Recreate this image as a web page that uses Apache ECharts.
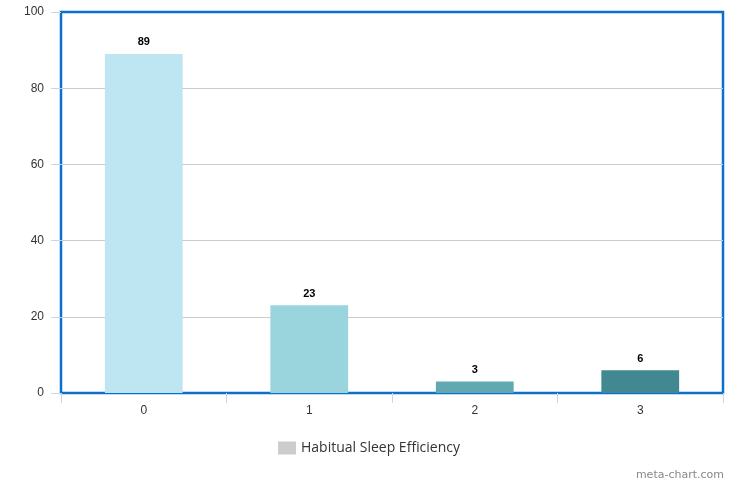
<!DOCTYPE html>
<html>
<head>
<meta charset="utf-8">
<script src="https://cdn.jsdelivr.net/npm/echarts@6/dist/echarts.min.js"></script>
<style>
  html, body { margin: 0; padding: 0; background: #fff; }
  #chart { width: 738px; height: 486px; }
</style>
</head>
<body>
<div id="chart"></div>
<script>
// Habitual sleep efficiency score counts
const categories = ['0', '1', '2', '3'];
const counts = [89, 23, 3, 6];
const barColors = ['#bde5f2', '#9ad5de', '#60a9b1', '#428890'];
const yTicks = [0, 20, 40, 60, 80, 100];

const chart = echarts.init(document.getElementById('chart'));

chart.setOption({
  animation: false,
  backgroundColor: '#ffffff',
  textStyle: { fontFamily: 'Arial, "Liberation Sans", sans-serif' },
  grid: {
    left: 61, right: 15, top: 12, bottom: 93,
    show: true,
    borderColor: '#0b6fcb',
    borderWidth: 2.5,
    backgroundColor: 'transparent'
  },
  legend: {
    data: ['Habitual Sleep Efficiency'],
    bottom: 26,
    left: 'center',
    icon: 'rect',
    itemWidth: 18,
    itemHeight: 13,
    itemGap: 7,
    selectedMode: false,
    textStyle: { fontSize: 14, color: '#333', fontFamily: '"Open Sans", "DejaVu Sans", sans-serif' }
  },
  graphic: [{
    type: 'text',
    right: 14,
    bottom: 5,
    style: { text: 'meta-chart.com', fontSize: 11, fill: '#888', fontFamily: '"DejaVu Sans", sans-serif' }
  }],
  xAxis: {
    type: 'category',
    data: categories,
    axisLine: { show: false },
    axisTick: { show: true, length: 10, lineStyle: { color: '#c8d6e8' } },
    axisLabel: { color: '#333', fontSize: 12, margin: 12 }
  },
  yAxis: {
    type: 'value',
    min: yTicks[0],
    max: yTicks[yTicks.length - 1],
    interval: 20,
    axisLine: { show: false },
    axisTick: { show: true, length: 10, lineStyle: { color: '#c8d6e8' } },
    axisLabel: { color: '#333', fontSize: 12, margin: 17 },
    splitLine: { showMinLine: false, showMaxLine: false, lineStyle: { color: '#cccccc', width: 1 } }
  },
  series: [{
    name: 'Habitual Sleep Efficiency',
    type: 'bar',
    barWidth: '47%',
    z: 1,
    itemStyle: { color: '#cccccc' },
    label: {
      show: true,
      position: 'top',
      distance: 6,
      fontWeight: 'bold',
      fontSize: 11,
      color: '#000'
    },
    data: counts.map((v, i) => ({ value: v, itemStyle: { color: barColors[i] } }))
  }]
});
</script>
</body>
</html>
